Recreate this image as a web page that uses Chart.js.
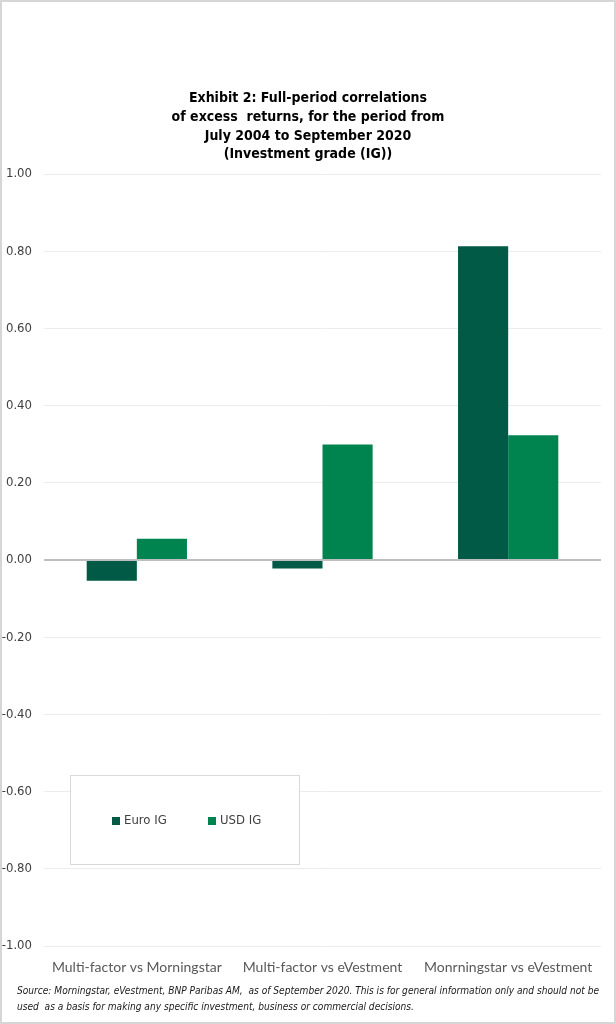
<!DOCTYPE html>
<html><head><meta charset="utf-8">
<script src="https://cdn.jsdelivr.net/npm/chart.js@4/dist/chart.umd.min.js"></script>
<style>
html,body{margin:0;padding:0;background:#fff;}
#wrap{position:relative;width:616px;height:1024px;}
#frame{position:absolute;left:0;top:0;width:616px;height:1024px;box-sizing:border-box;border:2px solid #d6d6d6;pointer-events:none;}
canvas{display:block;}
</style></head>
<body>
<div id="wrap"><canvas id="c" width="616" height="1024"></canvas><div id="frame"></div></div>
<script>
const categories = ['Multi-factor vs Morningstar', 'Multi-factor vs eVestment', 'Monrningstar vs eVestment'];
const seriesNames = ['Euro IG', 'USD IG'];
const euroIG = [-0.054, -0.022, 0.813];
const usdIG = [0.055, 0.299, 0.323];
const seriesColors = ['#005a46', '#00844f'];
const titleLines = ['Exhibit 2: Full-period correlations', 'of excess  returns, for the period from', 'July 2004 to September 2020', '(Investment grade (IG))'];
const sourceLines = ['Source: Morningstar, eVestment, BNP Paribas AM,  as of September 2020. This is for general information only and should not be', 'used  as a basis for making any specific investment, business or commercial decisions.'];
const yMin = -1, yMax = 1, yStep = 0.2;

const NARROW = '"Liberation Sans Narrow", "Arial Narrow", "DejaVu Sans Condensed", Arial, sans-serif';

const legendBox = {
  id: 'legendBox',
  afterDraw(chart) {
    const ctx = chart.ctx, a = chart.chartArea;
    const x = a.left + 26, y = a.bottom - 171, w = 229, h = 89;
    ctx.save();
    ctx.fillStyle = '#ffffff';
    ctx.fillRect(x, y, w, h);
    ctx.strokeStyle = '#d9d9d9';
    ctx.lineWidth = 1;
    ctx.strokeRect(x + 0.5, y + 0.5, w, h);
    ctx.font = '13px ' + NARROW;
    ctx.textBaseline = 'middle';
    ctx.textAlign = 'left';
    const offs = [42, 138];
    chart.data.datasets.forEach((ds, i) => {
      const sx = x + offs[i], cy = y + 46;
      ctx.fillStyle = ds.backgroundColor;
      ctx.fillRect(sx, cy - 4, 8, 8);
      ctx.fillStyle = '#404040';
      ctx.fillText(ds.label, sx + 12, cy);
    });
    ctx.restore();
  }
};

const sourceNote = {
  id: 'sourceNote',
  afterDraw(chart) {
    const ctx = chart.ctx, xs = chart.scales.x;
    ctx.save();
    ctx.font = 'italic 11px ' + NARROW;
    ctx.fillStyle = '#1a1a1a';
    ctx.textAlign = 'left';
    ctx.textBaseline = 'middle';
    const k = Math.min(1, 582 / ctx.measureText(sourceLines[0]).width);
    sourceLines.forEach((t, i) => {
      ctx.save();
      ctx.translate(17, xs.bottom + 7 + i * 16);
      ctx.scale(k, 1);
      ctx.fillText(t, 0, 0);
      ctx.restore();
    });
    ctx.restore();
  }
};

new Chart(document.getElementById('c'), {
  type: 'bar',
  data: {
    labels: categories,
    datasets: [
      { label: seriesNames[0], data: euroIG, backgroundColor: seriesColors[0] },
      { label: seriesNames[1], data: usdIG, backgroundColor: seriesColors[1] }
    ]
  },
  options: {
    responsive: false,
    animation: false,
    devicePixelRatio: 1,
    layout: { padding: { left: 0, right: 0, top: 89, bottom: 40 } },
    datasets: { bar: { categoryPercentage: 0.54, barPercentage: 1.0 } },
    plugins: {
      legend: { display: false },
      tooltip: { enabled: false },
      title: {
        display: true, text: titleLines, color: '#000',
        font: { family: NARROW, size: 14, weight: 'bold', lineHeight: 1.34 },
        padding: { top: 0, bottom: 10 }
      }
    },
    scales: {
      x: {
        afterFit(s) { s.height = 38; },
        grid: { display: false, drawTicks: false },
        border: { display: false },
        ticks: { color: '#595959', font: { family: 'Lato, "Open Sans", sans-serif', size: 14 }, padding: 13, maxRotation: 0, autoSkip: false }
      },
      y: {
        min: yMin, max: yMax,
        afterFit(s) { s.width = 44; },
        border: { display: false },
        grid: {
          drawTicks: false,
          color: (c) => c.tick && c.tick.value === 0 ? '#bfbfbf' : '#ececec',
          lineWidth: (c) => c.tick && c.tick.value === 0 ? 2 : 1
        },
        ticks: {
          stepSize: yStep, padding: 12, color: '#404040',
          font: { family: NARROW, size: 13 },
          callback: (v) => Number(v).toFixed(2)
        }
      },
      yRightMargin: {
        position: 'right', min: yMin, max: yMax,
        afterFit(s) { s.width = 15; },
        border: { display: false },
        grid: { display: false, drawTicks: false },
        ticks: { display: false }
      }
    }
  },
  plugins: [legendBox, sourceNote]
});
</script>
</body></html>
